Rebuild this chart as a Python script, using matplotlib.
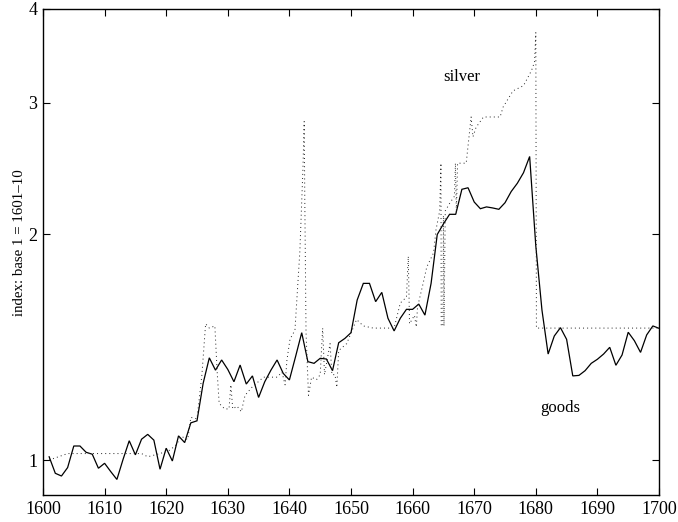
import numpy as np
import matplotlib
matplotlib.use("Agg")
import matplotlib.pyplot as plt

plt.rcParams["font.family"] = ["Liberation Serif", "DejaVu Serif"]

# Goods price index, annual, 1601-1700 (base 1601-10 = 1)
goods_years = list(range(1601, 1701))
goods_index = [
    1.010, 0.960, 0.952, 0.977, 1.044, 1.044, 1.024, 1.018, 0.975, 0.990,
    0.965, 0.942, 1.002, 1.061, 1.016, 1.066, 1.082, 1.063, 0.972, 1.037,
    0.997, 1.077, 1.055, 1.121, 1.128, 1.266, 1.369, 1.318, 1.360, 1.321,
    1.272, 1.339, 1.263, 1.295, 1.212, 1.272, 1.318, 1.360, 1.305, 1.279,
    1.374, 1.479, 1.353, 1.346, 1.367, 1.364, 1.316, 1.434, 1.453, 1.479,
    1.635, 1.721, 1.721, 1.627, 1.674, 1.546, 1.487, 1.546, 1.589, 1.589,
    1.615, 1.561, 1.721, 2.000, 2.066, 2.128, 2.128, 2.298, 2.309, 2.210,
    2.165, 2.177, 2.170, 2.161, 2.205, 2.282, 2.341, 2.418, 2.542, 1.930,
    1.585, 1.385, 1.464, 1.502, 1.449, 1.295, 1.297, 1.316, 1.346, 1.363,
    1.385, 1.414, 1.338, 1.381, 1.481, 1.443, 1.392, 1.469, 1.510, 1.499,
]

# Silver index, irregular observation dates
silver_years = [
    1601.0, 1604.0, 1616.0, 1617.0, 1619.0, 1620.5, 1621.5, 1622.5, 1623.5,
    1624.0, 1625.0, 1625.8, 1626.4, 1627.0, 1627.9, 1628.3, 1628.6, 1629.5,
    1630.2, 1630.5, 1630.8, 1631.5, 1632.2, 1632.8, 1633.9, 1635.8, 1638.0,
    1638.8, 1639.3, 1639.6, 1640.1, 1640.9, 1641.7, 1642.2, 1642.4, 1642.5,
    1642.7, 1643.1, 1643.6, 1644.4, 1645.0, 1645.4, 1645.7, 1646.6, 1646.9,
    1647.4, 1647.7, 1648.0, 1649.3, 1650.9, 1652.0, 1653.6, 1657.0, 1658.0,
    1659.0, 1659.3, 1659.5, 1660.3, 1660.6, 1660.8, 1661.7, 1662.3, 1663.4,
    1663.8, 1664.4, 1664.6, 1664.65, 1664.9, 1665.0, 1665.1, 1665.3, 1666.0,
    1666.8, 1666.95, 1667.1, 1667.3, 1668.7, 1669.5, 1669.8, 1670.3, 1671.5,
    1674.2, 1674.7, 1676.3, 1678.0, 1679.3, 1679.8, 1680.0, 1680.1, 1700.0,
]
silver_index = [
    1.00, 1.02, 1.02, 1.01, 1.02, 1.03, 1.045, 1.075, 1.065,
    1.14, 1.135, 1.30, 1.52, 1.50, 1.51, 1.30, 1.19, 1.17,
    1.17, 1.26, 1.17, 1.18, 1.16, 1.22, 1.25, 1.29, 1.29,
    1.31, 1.26, 1.36, 1.45, 1.49, 1.90, 2.45, 2.83, 2.22,
    1.48, 1.22, 1.29, 1.28, 1.30, 1.50, 1.30, 1.43, 1.30,
    1.30, 1.25, 1.40, 1.43, 1.54, 1.51, 1.50, 1.50, 1.62,
    1.65, 1.87, 1.52, 1.56, 1.505, 1.60, 1.72, 1.81, 1.89,
    2.03, 2.15, 2.49, 1.51, 1.51, 2.12, 1.51, 2.15, 2.20,
    2.25, 2.49, 2.14, 2.49, 2.49, 2.87, 2.70, 2.78, 2.87,
    2.87, 2.96, 3.11, 3.16, 3.31, 3.40, 3.72, 1.50, 1.50,
]

x_ticks = [1600, 1610, 1620, 1630, 1640, 1650, 1660, 1670, 1680, 1690, 1700]
y_ticks = [1, 2, 3, 4]

fig = plt.figure(figsize=(6.78, 5.22), dpi=100)
ax = fig.add_axes([0.0634, 0.0517, 0.9086, 0.9311])

ax.plot(goods_years, goods_index, color="black", lw=0.9, solid_joinstyle="miter")
ax.plot(silver_years, silver_index, color="#222222", lw=0.7,
        linestyle=(0, (1, 3.2)))

ax.set_yscale("log")
ax.set_xlim(1600, 1700)
ax.set_ylim(0.898, 4.0)
ax.set_xticks(x_ticks)
ax.set_xticklabels([str(t) for t in x_ticks])
ax.set_yticks(y_ticks)
ax.set_yticklabels([str(t) for t in y_ticks])
ax.yaxis.set_minor_locator(matplotlib.ticker.NullLocator())

ax.tick_params(axis="both", which="major", direction="in", length=5,
               width=0.8, top=True, right=True, labelsize=13, pad=4)
for s in ax.spines.values():
    s.set_linewidth(1.0)

ax.set_ylabel("index: base 1 = 1601\u201310", fontsize=10.7)
ax.yaxis.set_label_coords(-0.028, 0.5185)

ax.text(1668, 3.25, "silver", fontsize=12, ha="center", va="center")
ax.text(1684, 1.173, "goods", fontsize=12, ha="center", va="center")

fig.savefig("out.png", dpi=100)
